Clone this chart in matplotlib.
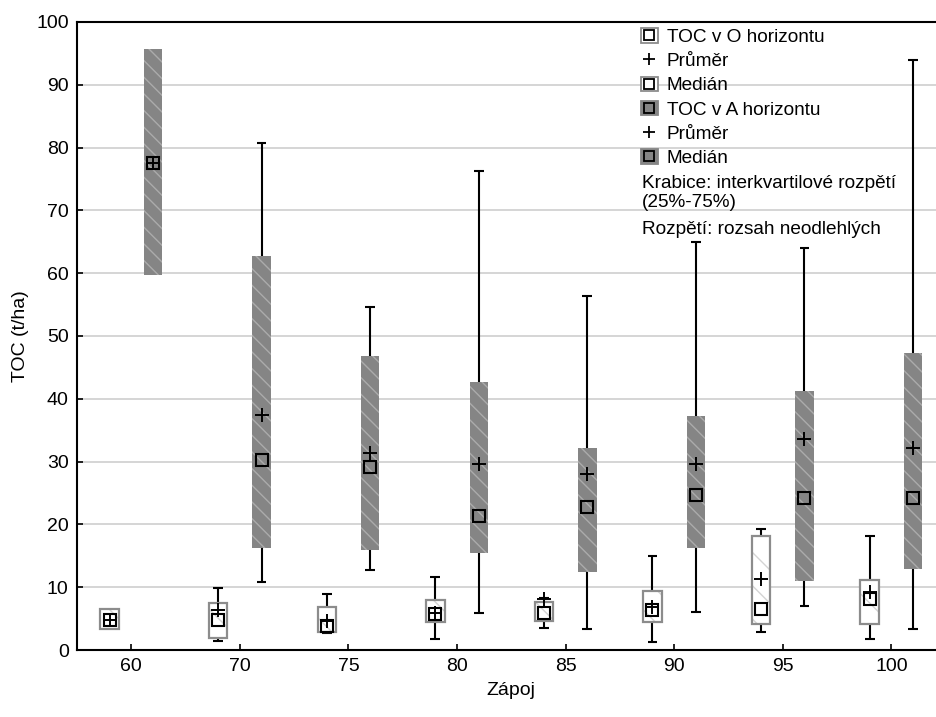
import numpy as np
import matplotlib
matplotlib.use('Agg')
import matplotlib.pyplot as plt
from matplotlib.patches import Rectangle
from matplotlib.lines import Line2D

plt.rcParams['font.family'] = ['Liberation Sans', 'DejaVu Sans']
plt.rcParams['font.size'] = 13.7
plt.rcParams['hatch.linewidth'] = 1.0

# Zapoj categories
cats = ['60', '70', '75', '80', '85', '90', '95', '100']

# TOC v O horizontu
O_q1 = [3.3, 1.9, 2.9, 4.5, 4.7, 4.5, 4.1, 4.1]
O_q3 = [6.6, 7.5, 6.8, 8.0, 7.6, 9.4, 18.2, 11.1]
O_med = [4.8, 4.8, 3.9, 5.7, 5.9, 6.3, 6.6, 8.2]
O_mean = [4.8, 6.3, 4.6, 5.9, 8.1, 6.8, 11.3, 9.3]
O_low = [3.3, 1.4, 2.7, 1.7, 3.5, 1.3, 2.8, 1.8]
O_high = [6.6, 9.9, 9.0, 11.7, 8.3, 15.0, 19.3, 18.2]

# TOC v A horizontu
A_q1 = [59.7, 16.3, 16.0, 15.5, 12.4, 16.2, 11.0, 12.9]
A_q3 = [95.7, 62.8, 46.8, 42.6, 32.2, 37.2, 41.2, 47.3]
A_med = [77.6, 30.2, 29.2, 21.4, 22.7, 24.7, 24.2, 24.2]
A_mean = [77.6, 37.4, 31.4, 29.6, 28.1, 29.6, 33.6, 32.2]
A_low = [59.7, 10.8, 12.7, 5.9, 3.3, 6.0, 7.0, 3.3]
A_high = [95.7, 80.8, 54.6, 76.3, 56.4, 65.0, 64.0, 94.0]

fig = plt.figure(figsize=(9.37, 7.17), dpi=100)
ax = fig.add_axes([0.0822, 0.0934, 0.927, 0.876])

x = np.arange(len(cats))
w = 0.17
cap = 0.045


def draw_series(xs, q1, q3, med, mean, low, high, face, hatchcol, hatch, edge):
    q1, q3, low, high = map(np.array, (q1, q3, low, high))
    # whiskers
    ax.vlines(xs, low, high, color='black', lw=1.5, zorder=1)
    m = low < q1
    ax.hlines(low[m], xs[m] - cap, xs[m] + cap, color='black', lw=1.5, zorder=1)
    m = high > q3
    ax.hlines(high[m], xs[m] - cap, xs[m] + cap, color='black', lw=1.5, zorder=1)
    # boxes: hatch layer, then outline
    ax.bar(xs, q3 - q1, bottom=q1, width=w, color=face, edgecolor=hatchcol,
           hatch=hatch, lw=0, zorder=2)
    if edge is not None:
        ax.bar(xs, q3 - q1, bottom=q1, width=w, facecolor='none',
               edgecolor=edge, lw=1.6, zorder=3)
    ax.plot(xs, med, 's', ms=8, mfc='none', mec='black', mew=1.5, ls='none', zorder=4)
    ax.plot(xs, mean, '+', ms=9.5, mec='black', mew=1.4, ls='none', zorder=5)


draw_series(x - 0.2, O_q1, O_q3, O_med, O_mean, O_low, O_high,
            'white', '#d4d4d4', '\\', '#8c8c8c')
draw_series(x + 0.2, A_q1, A_q3, A_med, A_mean, A_low, A_high,
            '#858585', '#ababab', '\\\\', None)

ax.set_xlim(-0.5, 7.5)
ax.set_ylim(0, 100)
ax.set_xticks(x)
ax.set_xticklabels(cats)
ax.set_yticks(np.arange(0, 101, 10))
ax.tick_params(direction='in', length=4, width=1.2, labelsize=14, pad=6)
ax.yaxis.grid(True, color='#d2d2d2', lw=1.3)
ax.set_axisbelow(True)
for s in ax.spines.values():
    s.set_linewidth(1.5)
ax.set_xlabel('Zápoj', fontsize=14, labelpad=5)
ax.set_ylabel('TOC (t/ha)', fontsize=14, labelpad=5)

# legend
sq = dict(marker='s', ms=6.5, mfc='none', mec='black', mew=1.3, ls='none')
h_o = (Rectangle((0, 0), 1, 1, fc='white', ec='#8c8c8c', lw=1.3), Line2D([], [], **sq))
h_a = (Rectangle((0, 0), 1, 1, fc='#858585', ec='#858585', lw=1.3), Line2D([], [], **sq))
h_p = Line2D([], [], marker='+', ms=8.5, mec='black', mew=1.3, ls='none')
leg = ax.legend([h_o, h_p, h_o, h_a, h_p, h_a],
                ['TOC v O horizontu', 'Průměr', 'Medián',
                 'TOC v A horizontu', 'Průměr', 'Medián'],
                loc='upper left', bbox_to_anchor=(0.647, 0.993), frameon=False,
                borderpad=0.1, borderaxespad=0, handlelength=0.9, handleheight=0.8,
                handletextpad=0.45, labelspacing=0.33, fontsize=13.7)
ax.text(0.650, 0.757, 'Krabice: interkvartilové rozpětí\n(25%-75%)',
        transform=ax.transAxes, ha='left', va='top', fontsize=13.7, linespacing=1.17)
ax.text(0.650, 0.670, 'Rozpětí: rozsah neodlehlých',
        transform=ax.transAxes, ha='left', va='center', fontsize=13.7)

fig.savefig('out.png', dpi=100)
